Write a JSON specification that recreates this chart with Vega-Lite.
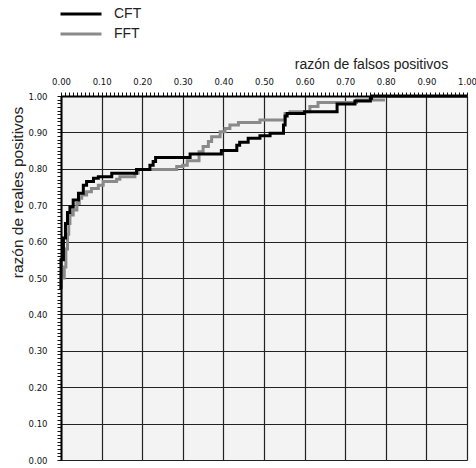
{
  "$schema": "https://vega.github.io/schema/vega-lite/v6.json",
  "autosize": "none",
  "width": 406,
  "height": 364,
  "padding": {"left": 61, "top": 96, "right": 9, "bottom": 8},
  "background": "white",
  "config": {
    "view": {"fill": "#f3f3f3", "stroke": null},
    "font": "Liberation Sans"
  },
  "datasets": {
    "fft": [
      {"fpr": 0.000, "tpr": 0.47, "serie": "FFT"},
      {"fpr": 0.000, "tpr": 0.50, "serie": "FFT"},
      {"fpr": 0.008, "tpr": 0.53, "serie": "FFT"},
      {"fpr": 0.012, "tpr": 0.58, "serie": "FFT"},
      {"fpr": 0.016, "tpr": 0.62, "serie": "FFT"},
      {"fpr": 0.019, "tpr": 0.65, "serie": "FFT"},
      {"fpr": 0.022, "tpr": 0.673, "serie": "FFT"},
      {"fpr": 0.030, "tpr": 0.687, "serie": "FFT"},
      {"fpr": 0.039, "tpr": 0.705, "serie": "FFT"},
      {"fpr": 0.045, "tpr": 0.719, "serie": "FFT"},
      {"fpr": 0.051, "tpr": 0.728, "serie": "FFT"},
      {"fpr": 0.063, "tpr": 0.737, "serie": "FFT"},
      {"fpr": 0.075, "tpr": 0.746, "serie": "FFT"},
      {"fpr": 0.092, "tpr": 0.755, "serie": "FFT"},
      {"fpr": 0.104, "tpr": 0.765, "serie": "FFT"},
      {"fpr": 0.137, "tpr": 0.771, "serie": "FFT"},
      {"fpr": 0.145, "tpr": 0.778, "serie": "FFT"},
      {"fpr": 0.182, "tpr": 0.788, "serie": "FFT"},
      {"fpr": 0.190, "tpr": 0.798, "serie": "FFT"},
      {"fpr": 0.285, "tpr": 0.806, "serie": "FFT"},
      {"fpr": 0.300, "tpr": 0.810, "serie": "FFT"},
      {"fpr": 0.311, "tpr": 0.822, "serie": "FFT"},
      {"fpr": 0.340, "tpr": 0.847, "serie": "FFT"},
      {"fpr": 0.350, "tpr": 0.861, "serie": "FFT"},
      {"fpr": 0.363, "tpr": 0.875, "serie": "FFT"},
      {"fpr": 0.371, "tpr": 0.888, "serie": "FFT"},
      {"fpr": 0.392, "tpr": 0.902, "serie": "FFT"},
      {"fpr": 0.404, "tpr": 0.911, "serie": "FFT"},
      {"fpr": 0.416, "tpr": 0.920, "serie": "FFT"},
      {"fpr": 0.437, "tpr": 0.927, "serie": "FFT"},
      {"fpr": 0.490, "tpr": 0.934, "serie": "FFT"},
      {"fpr": 0.552, "tpr": 0.952, "serie": "FFT"},
      {"fpr": 0.564, "tpr": 0.957, "serie": "FFT"},
      {"fpr": 0.613, "tpr": 0.971, "serie": "FFT"},
      {"fpr": 0.633, "tpr": 0.982, "serie": "FFT"},
      {"fpr": 0.728, "tpr": 0.989, "serie": "FFT"},
      {"fpr": 0.798, "tpr": 0.989, "serie": "FFT"}
    ],
    "cft": [
      {"fpr": 0.000, "tpr": 0.47, "serie": "CFT"},
      {"fpr": 0.000, "tpr": 0.55, "serie": "CFT"},
      {"fpr": 0.006, "tpr": 0.61, "serie": "CFT"},
      {"fpr": 0.011, "tpr": 0.65, "serie": "CFT"},
      {"fpr": 0.016, "tpr": 0.68, "serie": "CFT"},
      {"fpr": 0.022, "tpr": 0.695, "serie": "CFT"},
      {"fpr": 0.030, "tpr": 0.714, "serie": "CFT"},
      {"fpr": 0.043, "tpr": 0.733, "serie": "CFT"},
      {"fpr": 0.055, "tpr": 0.755, "serie": "CFT"},
      {"fpr": 0.063, "tpr": 0.765, "serie": "CFT"},
      {"fpr": 0.080, "tpr": 0.774, "serie": "CFT"},
      {"fpr": 0.092, "tpr": 0.778, "serie": "CFT"},
      {"fpr": 0.125, "tpr": 0.788, "serie": "CFT"},
      {"fpr": 0.186, "tpr": 0.798, "serie": "CFT"},
      {"fpr": 0.219, "tpr": 0.810, "serie": "CFT"},
      {"fpr": 0.227, "tpr": 0.820, "serie": "CFT"},
      {"fpr": 0.233, "tpr": 0.831, "serie": "CFT"},
      {"fpr": 0.318, "tpr": 0.841, "serie": "CFT"},
      {"fpr": 0.395, "tpr": 0.850, "serie": "CFT"},
      {"fpr": 0.433, "tpr": 0.865, "serie": "CFT"},
      {"fpr": 0.440, "tpr": 0.873, "serie": "CFT"},
      {"fpr": 0.461, "tpr": 0.884, "serie": "CFT"},
      {"fpr": 0.490, "tpr": 0.891, "serie": "CFT"},
      {"fpr": 0.515, "tpr": 0.898, "serie": "CFT"},
      {"fpr": 0.548, "tpr": 0.920, "serie": "CFT"},
      {"fpr": 0.552, "tpr": 0.945, "serie": "CFT"},
      {"fpr": 0.557, "tpr": 0.952, "serie": "CFT"},
      {"fpr": 0.600, "tpr": 0.957, "serie": "CFT"},
      {"fpr": 0.680, "tpr": 0.978, "serie": "CFT"},
      {"fpr": 0.724, "tpr": 0.986, "serie": "CFT"},
      {"fpr": 0.762, "tpr": 0.994, "serie": "CFT"},
      {"fpr": 0.765, "tpr": 1.000, "serie": "CFT"},
      {"fpr": 1.000, "tpr": 1.000, "serie": "CFT"}
    ]
  },
  "encoding": {
    "x": {
      "field": "fpr",
      "type": "quantitative",
      "scale": {"domain": [0, 1], "nice": false},
      "axis": {
        "orient": "top",
        "title": "razón de falsos positivos",
        "titleFont": "Liberation Sans",
        "titleFontSize": 14,
        "titleFontWeight": "normal",
        "titleColor": "#222",
        "titleAlign": "center",
        "titleBaseline": "alphabetic",
        "titleX": 310,
        "titleY": -28,
        "tickCount": 100,
        "labelExpr": "abs(datum.value * 10 - round(datum.value * 10)) < 0.0001 ? format(datum.value, '.2f') : ''",
        "labelOverlap": false,
        "labelFlush": false,
        "labelBound": false,
        "labelFont": "DejaVu Sans",
        "labelFontSize": 8.5,
        "labelColor": "#111",
        "labelPadding": 6,
        "tickSize": 4,
        "tickColor": "#111",
        "domainColor": "#000",
        "domainWidth": 2,
        "grid": true,
        "gridColor": "#222",
        "gridWidth": 1.2,
        "gridOpacity": {"condition": {"test": "abs(datum.value * 10 - round(datum.value * 10)) < 0.0001", "value": 1}, "value": 0}
      }
    },
    "y": {
      "field": "tpr",
      "type": "quantitative",
      "scale": {"domain": [0, 1], "nice": false},
      "axis": {
        "orient": "left",
        "title": "razón de reales positivos",
        "titleFont": "Liberation Sans",
        "titleFontSize": 15.5,
        "titleFontWeight": "normal",
        "titleColor": "#222",
        "titleAngle": -90,
        "titleAlign": "center",
        "titleBaseline": "middle",
        "titleX": -44,
        "titleY": 96,
        "tickCount": 100,
        "labelExpr": "abs(datum.value * 10 - round(datum.value * 10)) < 0.0001 ? format(datum.value, '.2f') : ''",
        "labelOverlap": false,
        "labelFlush": false,
        "labelBound": false,
        "labelFont": "DejaVu Sans",
        "labelFontSize": 8.5,
        "labelColor": "#111",
        "labelPadding": 10,
        "tickSize": 4,
        "tickColor": "#111",
        "domainColor": "#000",
        "domainWidth": 2,
        "grid": true,
        "gridColor": "#222",
        "gridWidth": 1.2,
        "gridOpacity": {"condition": {"test": "abs(datum.value * 10 - round(datum.value * 10)) < 0.0001", "value": 1}, "value": 0}
      }
    },
    "color": {
      "field": "serie",
      "type": "nominal",
      "scale": {"domain": ["CFT", "FFT"], "range": ["#000000", "#8a8a8a"]},
      "legend": {
        "title": null,
        "orient": "none",
        "legendX": -2,
        "legendY": -92,
        "padding": 0,
        "symbolType": "stroke",
        "symbolSize": 1681,
        "symbolStrokeWidth": 3,
        "clipHeight": 20,
        "labelFont": "Liberation Sans",
        "labelFontSize": 14,
        "labelColor": "#222",
        "labelOffset": 11,
        "rowPadding": 0
      }
    }
  },
  "layer": [
    {
      "data": {"name": "fft"},
      "mark": {"type": "line", "interpolate": "step-after", "strokeWidth": 3}
    },
    {
      "data": {"name": "cft"},
      "mark": {"type": "line", "interpolate": "step-after", "strokeWidth": 3}
    }
  ]
}
